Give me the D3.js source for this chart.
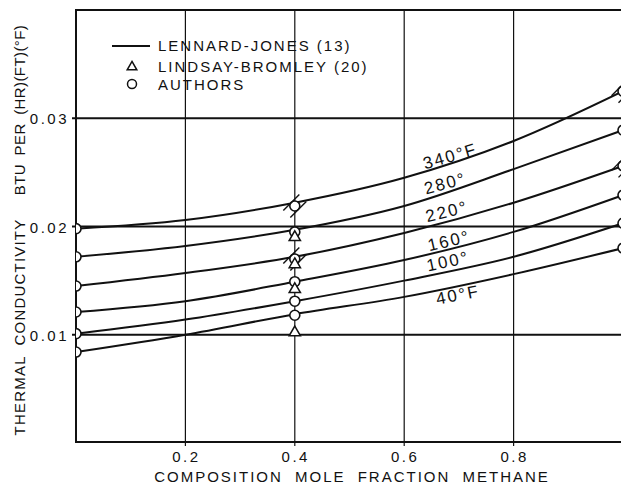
<!DOCTYPE html>
<html>
<head>
<meta charset="utf-8">
<script src="https://cdn.jsdelivr.net/npm/d3@7"></script>
<style>
  body { margin: 0; background: #fff; }
  text { font-family: "Liberation Sans", Arial, sans-serif; fill: #111; }
</style>
</head>
<body>
<div id="chart-area"></div>
<script>
// mole fraction methane where the curves were read
let xs = [0, 0.2, 0.4, 0.6, 0.8, 1.0];
let temps = ["340°F", "280°", "220°", "160°", "100°", "40°F"];

// Lennard-Jones curves, BTU/(hr)(ft)(°F)
let k340 = [0.0198, 0.0206, 0.0222, 0.0245, 0.0279, 0.0325];
let k280 = [0.0172, 0.0182, 0.0197, 0.0219, 0.0253, 0.0289];
let k220 = [0.0145, 0.0157, 0.0172, 0.0194, 0.0222, 0.0256];
let k160 = [0.0121, 0.0131, 0.0149, 0.0169, 0.0195, 0.0229];
let k100 = [0.0101, 0.0114, 0.0131, 0.0150, 0.0172, 0.0203];
let k40  = [0.0084, 0.0100, 0.0119, 0.0135, 0.0156, 0.0180];
let curves = [k340, k280, k220, k160, k100, k40];

// authors' points
let authorsX = [0, 0.4, 1.0];
let authors0  = [0.0198, 0.0172, 0.0145, 0.0121, 0.0101, 0.0084];
let authors04 = [0.0219, 0.0195, 0.0170, 0.0149, 0.0131, 0.0118];
let authors1  = [0.0325, 0.0289, 0.0256, 0.0229, 0.0203, 0.0180];

// Lindsay-Bromley points at x = 0.4
let lindsay04 = [0.0190, 0.0165, 0.0142, 0.0102];

let yTicks = [0.01, 0.02, 0.03];
let xTicks = [0.2, 0.4, 0.6, 0.8];

let margin = { left: 76, right: -2, top: 10, bottom: 41 };
let W = 621, H = 484;
let width = W - margin.left - margin.right;
let height = H - margin.top - margin.bottom;

let svg = d3.select("#chart-area")
  .append("svg")
  .attr("width", W)
  .attr("height", H);

svg.append("rect").attr("width", W).attr("height", H).attr("fill", "#fff");

let g = svg.append("g")
  .attr("transform", "translate(" + margin.left + "," + margin.top + ")");

let x = d3.scaleLinear().domain([0, 1]).range([0, width]);
let y = d3.scaleLinear().domain([0, 0.04]).range([height, 0]);

svg.append("clipPath").attr("id", "plot")
  .append("rect").attr("x", 0).attr("y", 0).attr("width", width).attr("height", height);

// grid
g.selectAll(".hgrid").data(yTicks).enter().append("line")
  .attr("x1", -4).attr("x2", width)
  .attr("y1", d => y(d)).attr("y2", d => y(d))
  .attr("stroke", "#111").attr("stroke-width", 1.8);

g.selectAll(".vgrid").data(xTicks).enter().append("line")
  .attr("x1", d => x(d)).attr("x2", d => x(d))
  .attr("y1", 0).attr("y2", height + 3)
  .attr("stroke", "#111").attr("stroke-width", 1.2);

// frame: left, top, bottom
g.append("path")
  .attr("d", "M" + width + ",0H0V" + (height - 1) + "H" + width)
  .attr("fill", "none").attr("stroke", "#111").attr("stroke-width", 2);

// tick labels
g.selectAll(".ylab").data(yTicks).enter().append("text")
  .attr("x", -7).attr("y", d => y(d) + 6)
  .attr("text-anchor", "end")
  .attr("font-size", "15px").attr("letter-spacing", "2.5px")
  .text(d => d3.format(".2f")(d));

g.selectAll(".xlab").data(xTicks).enter().append("text")
  .attr("x", d => x(d) + 1).attr("y", height + 19)
  .attr("text-anchor", "middle")
  .attr("font-size", "15px").attr("letter-spacing", "2.5px")
  .text(d => d3.format(".1f")(d));

// axis titles
svg.append("text")
  .attr("x", 352).attr("y", 482)
  .attr("text-anchor", "middle")
  .attr("font-size", "15px").attr("letter-spacing", "2px").attr("word-spacing", "6px")
  .text("COMPOSITION MOLE FRACTION METHANE");

svg.append("text")
  .attr("transform", "translate(25,327) rotate(-90)")
  .attr("text-anchor", "middle")
  .attr("font-size", "15px").attr("letter-spacing", "1.2px").attr("word-spacing", "5px")
  .text("THERMAL CONDUCTIVITY");

svg.append("text")
  .attr("transform", "translate(25,110) rotate(-90)")
  .attr("text-anchor", "middle")
  .attr("font-size", "15px").attr("letter-spacing", "0.4px").attr("word-spacing", "4px")
  .text("BTU PER (HR)(FT)(°F)");

// curves
let line = d3.line()
  .x((d, i) => x(xs[i]))
  .y(d => y(d))
  .curve(d3.curveMonotoneX);

g.selectAll(".curve").data(curves).enter().append("path")
  .attr("d", line)
  .attr("fill", "none").attr("stroke", "#111").attr("stroke-width", 2);

// markers
let mk = g.append("g").attr("clip-path", "url(#plot)");

[authors0, authors04, authors1].forEach((vals, j) => {
  mk.selectAll(".c" + j).data(vals).enter().append("circle")
    .attr("cx", x(authorsX[j])).attr("cy", d => y(d))
    .attr("r", 5)
    .attr("fill", "#fff").attr("stroke", "#111").attr("stroke-width", 1.6);
});

// crossed marks on the 340 and 220 points
[[0.4, authors04[0]], [0.4, authors04[2]], [1.0, authors1[0]], [1.0, authors1[2]]].forEach(p => {
  let cx = x(p[0]), cy = y(p[1]);
  [-3.5, 3.5].forEach(o => {
    mk.append("line")
      .attr("x1", cx - 8 + o).attr("y1", cy + 8 + o)
      .attr("x2", cx + 8 + o).attr("y2", cy - 8 + o)
      .attr("stroke", "#111").attr("stroke-width", 1.4);
  });
});

let tri = d3.symbol().type(d3.symbolTriangle).size(55);
mk.selectAll(".tri").data(lindsay04).enter().append("path")
  .attr("d", tri)
  .attr("transform", d => "translate(" + x(0.4) + "," + y(d) + ")")
  .attr("fill", "#fff").attr("stroke", "#111").attr("stroke-width", 1.5);

// curve labels
let labelAt = [[0.684, 0.0265, -16], [0.675, 0.0240, -15], [0.678, 0.0214, -14],
               [0.682, 0.0187, -13], [0.680, 0.0168, -12], [0.698, 0.0137, -11]];
g.selectAll(".tlab").data(temps).enter().append("text")
  .attr("transform", (d, i) => "translate(" + x(labelAt[i][0]) + "," + y(labelAt[i][1]) + ") rotate(" + labelAt[i][2] + ")")
  .attr("text-anchor", "middle").attr("dy", "0.35em")
  .attr("font-size", "17px").attr("letter-spacing", "2px")
  .text(d => d);

// legend
let lg = svg.append("g");
lg.append("line").attr("x1", 112).attr("x2", 150).attr("y1", 46).attr("y2", 46)
  .attr("stroke", "#111").attr("stroke-width", 2);
lg.append("path").attr("d", d3.symbol().type(d3.symbolTriangle).size(40))
  .attr("transform", "translate(132,67)")
  .attr("fill", "#fff").attr("stroke", "#111").attr("stroke-width", 1.5);
lg.append("circle").attr("cx", 132).attr("cy", 84).attr("r", 4.5)
  .attr("fill", "#fff").attr("stroke", "#111").attr("stroke-width", 1.5);

let legendText = ["LENNARD-JONES (13)", "LINDSAY-BROMLEY (20)", "AUTHORS"];
lg.selectAll(".lt").data(legendText).enter().append("text")
  .attr("x", 158).attr("y", (d, i) => [51, 72, 90][i])
  .attr("font-size", "15px").attr("letter-spacing", "2px")
  .text(d => d);
</script>
</body>
</html>
